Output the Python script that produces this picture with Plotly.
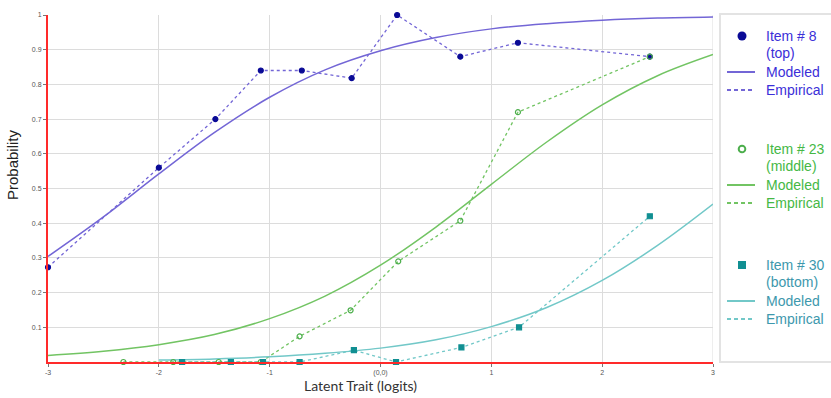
import plotly.graph_objects as go

# ---------------- data ----------------
# Modeled curves
model_x = [-3, -2.5, -2, -1.5, -1, -0.5, 0, 0.5, 1, 1.5, 2, 2.5, 3]
model_top = [0.304, 0.418, 0.542, 0.661, 0.763, 0.842, 0.897, 0.935, 0.960, 0.975, 0.985, 0.991, 0.994]
model_mid = [0.019, 0.031, 0.050, 0.079, 0.125, 0.190, 0.279, 0.389, 0.512, 0.634, 0.741, 0.825, 0.886]
model_bot_x = [-2, -1.5, -1, -0.5, 0, 0.5, 1, 1.5, 2, 2.5, 3]
model_bot = [0.006, 0.009, 0.015, 0.025, 0.040, 0.064, 0.102, 0.157, 0.235, 0.336, 0.455]

# Empirical points
emp_top_x = [-3.0, -2.0, -1.49, -1.08, -0.71, -0.26, 0.15, 0.72, 1.24, 2.43]
emp_top_y = [0.273, 0.56, 0.70, 0.84, 0.84, 0.818, 1.0, 0.88, 0.92, 0.88]
emp_mid_x = [-2.32, -1.87, -1.46, -1.08, -0.73, -0.27, 0.16, 0.72, 1.24, 2.43]
emp_mid_y = [0.0, 0.0, 0.0, 0.0, 0.074, 0.149, 0.29, 0.407, 0.72, 0.88]
emp_bot_x = [-1.79, -1.35, -1.06, -0.73, -0.24, 0.14, 0.73, 1.25, 2.43]
emp_bot_y = [0.0, 0.0, 0.0, 0.0, 0.034, 0.0, 0.042, 0.10, 0.42]

x_tickvals = [-3, -2, -1, 0, 1, 2, 3]
x_ticktext = ["-3", "-2", "-1", "(0,0)", "1", "2", "3"]
y_tickvals = [0.1, 0.2, 0.3, 0.4, 0.5, 0.6, 0.7, 0.8, 0.9, 1.0]
y_ticktext = ["0.1", "0.2", "0.3", "0.4", "0.5", "0.6", "0.7", "0.8", "0.9", "1"]

item_names = ["Item # 8", "Item # 23", "Item # 30"]
item_subs = ["(top)", "(middle)", "(bottom)"]
legend_labels = ["Modeled", "Empirical"]

items = [
    dict(mx=model_x, my=model_top, ex=emp_top_x, ey=emp_top_y,
         line="#7366d6", marker="#0a0a96", txt="#3b2fd8", symbol="circle"),
    dict(mx=model_x, my=model_mid, ex=emp_mid_x, ey=emp_mid_y,
         line="#72c463", marker="#4cae4c", txt="#45b845", symbol="circle-open"),
    dict(mx=model_bot_x, my=model_bot, ex=emp_bot_x, ey=emp_bot_y,
         line="#72c8c8", marker="#118f92", txt="#3d98ad", symbol="square"),
]

# layout geometry (pixels)
W, H = 831, 398
L, R, T, B = 48, 118, 15, 36
PW, PH = W - L - R, H - T - B


def px(xp):
    return (xp - L) / PW


def py(yp):
    return (H - B - yp) / PH


fig = go.Figure()
for it in items:
    fig.add_trace(go.Scatter(
        x=it["mx"], y=it["my"], mode="lines",
        line=dict(color=it["line"], width=1.5, shape="spline"), showlegend=False))
    fig.add_trace(go.Scatter(
        x=it["ex"], y=it["ey"], mode="lines",
        line=dict(color=it["line"], width=1.3, dash="dot"), showlegend=False))
for it in items:
    fig.add_trace(go.Scatter(
        x=it["ex"], y=it["ey"], mode="markers",
        marker=dict(symbol=it["symbol"], size=5, color=it["marker"],
                    line=dict(color=it["marker"], width=1.2)),
        cliponaxis=False, showlegend=False))

# ---------- manual legend ----------
annotations = []
shapes = [
    dict(type="line", xref="x", yref="paper", x0=3, x1=3, y0=0, y1=1,
         line=dict(color="#dcdcdc", width=1), layer="below"),
    dict(type="rect", xref="paper", yref="paper", x0=px(720), x1=px(845), y0=py(362), y1=py(14),
         line=dict(color="#e3e3e3", width=2), fillcolor="rgba(0,0,0,0)"),
]
group_top = [36, 149, 265]
for i, it in enumerate(items):
    y0 = group_top[i]
    c = it["txt"]
    rows = [(item_names[i], y0), (item_subs[i], y0 + 17),
            (legend_labels[0], y0 + 36), (legend_labels[1], y0 + 54)]
    for text, yy in rows:
        annotations.append(dict(text=text, xref="paper", yref="paper", x=px(764), y=py(yy),
                                xanchor="left", yanchor="middle", showarrow=False,
                                font=dict(size=14, color=c, family="Arial, Liberation Sans, sans-serif")))
    # marker glyph
    mx, my, r = 742, y0, 4.5
    if it["symbol"] == "square":
        shapes.append(dict(type="rect", xref="paper", yref="paper",
                           x0=px(mx - 4), x1=px(mx + 4), y0=py(my + 4), y1=py(my - 4),
                           fillcolor=it["marker"], line=dict(width=0)))
    elif it["symbol"] == "circle-open":
        shapes.append(dict(type="circle", xref="paper", yref="paper",
                           x0=px(mx - 3.3), x1=px(mx + 3.3), y0=py(my + 3.3), y1=py(my - 3.3),
                           fillcolor="rgba(0,0,0,0)", line=dict(width=2, color=it["marker"])))
    else:
        shapes.append(dict(type="circle", xref="paper", yref="paper",
                           x0=px(mx - r), x1=px(mx + r), y0=py(my + r), y1=py(my - r),
                           fillcolor=it["marker"], line=dict(width=0)))
    # line glyphs
    shapes.append(dict(type="line", xref="paper", yref="paper", x0=px(727), x1=px(755),
                       y0=py(y0 + 36), y1=py(y0 + 36), line=dict(color=it["line"], width=2)))
    shapes.append(dict(type="line", xref="paper", yref="paper", x0=px(727), x1=px(755),
                       y0=py(y0 + 54), y1=py(y0 + 54), line=dict(color=it["line"], width=2, dash="4px,3px")))

annotations += [
    dict(text="Latent Trait (logits)", xref="paper", yref="paper", x=px(360), y=py(385),
         xanchor="center", yanchor="middle", showarrow=False,
         font=dict(size=14, family="Lato, Open Sans, sans-serif", color="#333")),
    dict(text="Probability", xref="paper", yref="paper", x=px(12), y=py(165),
         xanchor="center", yanchor="middle", textangle=-90, showarrow=False,
         font=dict(size=15, family="Arial, Liberation Sans, sans-serif", color="#222")),
]

fig.update_layout(
    width=W, height=H,
    margin=dict(l=L, r=R, t=T, b=B, autoexpand=False),
    paper_bgcolor="white", plot_bgcolor="white",
    font=dict(family="Arial, Liberation Sans, sans-serif", color="#444"),
    showlegend=False,
    xaxis=dict(range=[-3, 3], tickvals=x_tickvals, ticktext=x_ticktext,
               showgrid=True, gridcolor="#dcdcdc", gridwidth=1, zeroline=False,
               showline=True, linecolor="#ff2a2a", linewidth=2,
               ticks="outside", ticklen=3, tickcolor="#777", automargin=False,
               tickfont=dict(size=7, color="#555")),
    yaxis=dict(range=[0, 1], tickvals=y_tickvals, ticktext=y_ticktext,
               showgrid=True, gridcolor="#dcdcdc", gridwidth=1, zeroline=False,
               showline=True, linecolor="#ff2a2a", linewidth=2,
               ticks="outside", ticklen=3, tickcolor="#777", automargin=False,
               tickfont=dict(size=7, color="#555")),
    shapes=shapes,
    annotations=annotations,
)

fig.write_html("out.html", config={"displayModeBar": False},
               post_script="document.body.style.margin='0';document.body.style.padding='0';")
